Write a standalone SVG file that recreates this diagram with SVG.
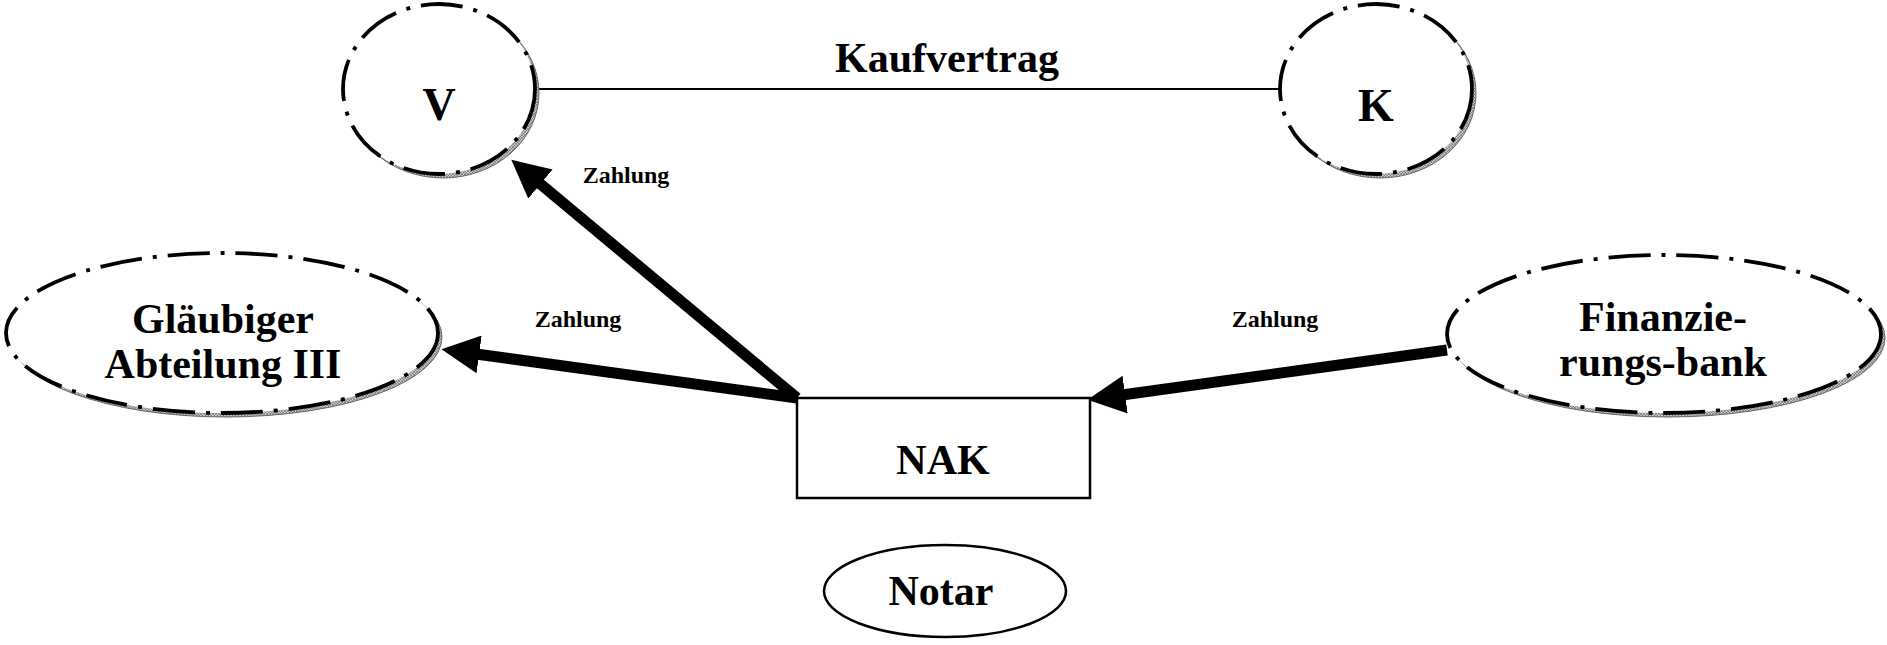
<svg xmlns="http://www.w3.org/2000/svg" width="1887" height="645" viewBox="0 0 1887 645">
  <style>
    .lbl { font-family: "Liberation Serif", "Times New Roman", serif; font-weight: bold; fill: #000; text-anchor: middle; }
    .big { font-size: 42px; }
    .vk { font-size: 46px; }
    .small { font-size: 24px; }
    .shadow { fill: url(#hatch); stroke: #666; stroke-width: 1; }
    .dashed { fill: #fff; stroke: #000; stroke-width: 3.8; stroke-dasharray: 42 11 4 11; }
    .pay { stroke: #000; stroke-width: 11; fill: none; marker-end: url(#head); }
  </style>
  <defs>
    <pattern id="hatch" width="3" height="3" patternUnits="userSpaceOnUse">
      <rect width="3" height="3" fill="#c8c8c8"/>
      <path d="M0,0 L3,3 M3,0 L0,3" stroke="#666" stroke-width="0.6"/>
    </pattern>
    <marker id="head" markerUnits="userSpaceOnUse" markerWidth="38" markerHeight="38" refX="3" refY="18" orient="auto" viewBox="0 0 36 36">
      <path d="M0,0 L36,18 L0,36 z" fill="#000"/>
    </marker>
  </defs>

  <g id="connectors">
    <line x1="535" y1="89" x2="1280" y2="89" stroke="#000" stroke-width="2"/>
    <line class="pay" x1="797" y1="398" x2="538" y2="182"/>
    <line class="pay" x1="797" y1="398" x2="476" y2="354"/>
    <line class="pay" x1="1447" y1="350" x2="1122" y2="395"/>
  </g>

  <g id="node-V">
    <ellipse class="shadow" cx="443" cy="93" rx="96" ry="85"/>
    <ellipse class="dashed" cx="439" cy="89" rx="96" ry="85"/>
    <text class="lbl vk" x="439" y="120">V</text>
  </g>

  <g id="node-K">
    <ellipse class="shadow" cx="1380" cy="93" rx="96" ry="85"/>
    <ellipse class="dashed" cx="1376" cy="89" rx="96" ry="85"/>
    <text class="lbl vk" x="1376" y="121">K</text>
  </g>

  <g id="label-kaufvertrag">
    <text class="lbl" style="font-size:42px" x="947" y="72">Kaufvertrag</text>
  </g>

  <g id="node-glaeubiger">
    <ellipse class="shadow" cx="226" cy="337" rx="216" ry="80"/>
    <ellipse class="dashed" cx="222" cy="333" rx="216" ry="80"/>
    <text class="lbl big" x="223" y="333">Gläubiger</text>
    <text class="lbl big" x="223" y="378">Abteilung III</text>
  </g>

  <g id="node-finanzierungsbank">
    <ellipse class="shadow" cx="1668" cy="338" rx="217" ry="79"/>
    <ellipse class="dashed" cx="1664" cy="334" rx="217" ry="79"/>
    <text class="lbl big" x="1663" y="331">Finanzie-</text>
    <text class="lbl big" x="1663" y="376">rungs-bank</text>
  </g>

  <g id="node-NAK">
    <rect x="797" y="398" width="293" height="100" fill="#fff" stroke="#000" stroke-width="2.5"/>
    <text class="lbl big" x="943" y="474">NAK</text>
  </g>

  <g id="node-notar">
    <ellipse cx="945" cy="591" rx="121" ry="46" fill="#fff" stroke="#000" stroke-width="2.5"/>
    <text class="lbl big" x="941" y="605">Notar</text>
  </g>

  <g id="labels-zahlung">
    <text class="lbl small" x="626" y="183">Zahlung</text>
    <text class="lbl small" x="578" y="327">Zahlung</text>
    <text class="lbl small" x="1275" y="327">Zahlung</text>
  </g>
</svg>
